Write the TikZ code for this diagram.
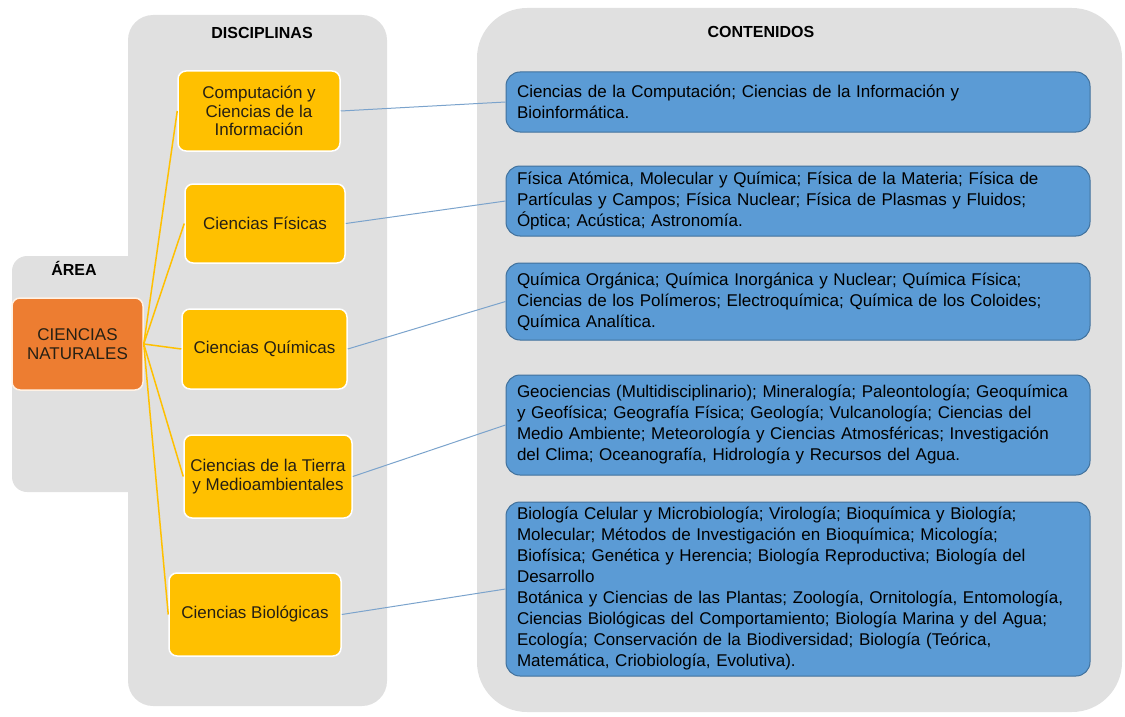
\documentclass[tikz,border=0pt]{standalone}
\usepackage{fontspec}
\setmainfont{Liberation Sans}
\usepackage{tikz}
\usetikzlibrary{positioning, backgrounds}
\definecolor{panelgray}{HTML}{E0E0E0}
\definecolor{areaorange}{HTML}{ED7D31}
\definecolor{discyellow}{HTML}{FFC000}
\definecolor{contblue}{HTML}{5B9BD5}
\definecolor{contborder}{HTML}{41719C}
\definecolor{linkblue}{HTML}{7BA3CC}
\definecolor{boxtext}{HTML}{262014}

\tikzset{
  panel/.style={fill=panelgray},
  headline/.style={font=\bfseries\fontsize{16}{19}\selectfont},
  areabox/.style={shape=rectangle, rounded corners=8pt, draw=white!90!orange, line width=1.5pt,
    fill=areaorange, text=boxtext, minimum width=131pt, minimum height=92pt, align=center,
    font=\fontsize{17}{18.5}\selectfont},
  discbox/.style={shape=rectangle, rounded corners=8pt, draw=white, line width=1.5pt,
    fill=discyellow, text=boxtext, align=center, font=\fontsize{17}{18.5}\selectfont},
  contbox/.style={shape=rectangle, rounded corners=14pt, draw=contborder, line width=1pt,
    fill=contblue, text=black, text width=562pt, inner xsep=11pt, align=left,
    font=\fontsize{17}{21}\selectfont},
  trunk/.style={draw=discyellow, line width=1.5pt},
  leaf/.style={draw=linkblue, line width=1pt}
}

\begin{document}
\begin{tikzpicture}[x=1pt, y=-1pt]
  \useasboundingbox (0,0) rectangle (1125,717);

  % panels
  \fill[panel, rounded corners=15pt] (12,256) rectangle (150,492);
  \fill[panel, rounded corners=25pt] (128,15) rectangle (387,706);
  \fill[panel, rounded corners=50pt] (477,8) rectangle (1122,712);

  \node[headline] (tarea) at (74,268) {ÁREA};
  \node[headline] (tdisc) at (262,33) {DISCIPLINAS};
  \node[headline] (tcont) at (761,32) {CONTENIDOS};

  \node[areabox] (area) at (77.5,344) {CIENCIAS\\NATURALES};

  \node[discbox, minimum width=162pt, minimum height=80pt] (comp) at (259,111) {Computación y\\Ciencias de la\\Información};
  \node[discbox, minimum width=160pt, minimum height=79pt] (fis) at (265,223.5) {Ciencias Físicas};
  \node[discbox, minimum width=165pt, minimum height=80pt] (quim) at (264.5,349) {Ciencias Químicas};
  \node[discbox, minimum width=168pt, minimum height=83pt] (tierra) at (268,476.5) {Ciencias de la Tierra\\y Medioambientales};
  \node[discbox, minimum width=172pt, minimum height=83pt] (bio) at (255,614.5) {Ciencias Biológicas};

  \node[contbox, minimum height=60pt] (ccomp) at (798,102) {Ciencias de la Computación; Ciencias de la Información y\\Bioinformática.};
  \node[contbox, minimum height=70pt] (cfis) at (798,201) {Física Atómica, Molecular y Química; Física de la Materia; Física de\\Partículas y Campos; Física Nuclear; Física de Plasmas y Fluidos;\\Óptica; Acústica; Astronomía.};
  \node[contbox, minimum height=77pt] (cquim) at (798,301.5) {Química Orgánica; Química Inorgánica y Nuclear; Química Física;\\Ciencias de los Polímeros; Electroquímica; Química de los Coloides;\\Química Analítica.};
  \node[contbox, minimum height=100pt] (ctierra) at (798,425) {Geociencias (Multidisciplinario); Mineralogía; Paleontología; Geoquímica\\y Geofísica; Geografía Física; Geología; Vulcanología; Ciencias del\\Medio Ambiente; Meteorología y Ciencias Atmosféricas; Investigación\\del Clima; Oceanografía, Hidrología y Recursos del Agua.};
  \node[contbox, minimum height=174pt] (cbio) at (798,589) {Biología Celular y Microbiología; Virología; Bioquímica y Biología;\\Molecular; Métodos de Investigación en Bioquímica; Micología;\\Biofísica; Genética y Herencia; Biología Reproductiva; Biología del\\Desarrollo\\Botánica y Ciencias de las Plantas; Zoología, Ornitología, Entomología,\\Ciencias Biológicas del Comportamiento; Biología Marina y del Agua;\\Ecología; Conservación de la Biodiversidad; Biología (Teórica,\\Matemática, Criobiología, Evolutiva).};

  % area to disciplines
  \path[trunk] (area.east) edge (comp.west);
  \path[trunk] (area.east) edge (fis.west);
  \path[trunk] (area.east) edge (quim.west);
  \path[trunk] (area.east) edge (tierra.west);
  \path[trunk] (area.east) edge (bio.west);

  % disciplines to contents
  \path[leaf] (comp.east) edge (ccomp.west);
  \path[leaf] (fis.east) edge (cfis.west);
  \path[leaf] (quim.east) edge (cquim.west);
  \path[leaf] (tierra.east) edge (ctierra.west);
  \path[leaf] (bio.east) edge (cbio.west);

\end{tikzpicture}
\end{document}
